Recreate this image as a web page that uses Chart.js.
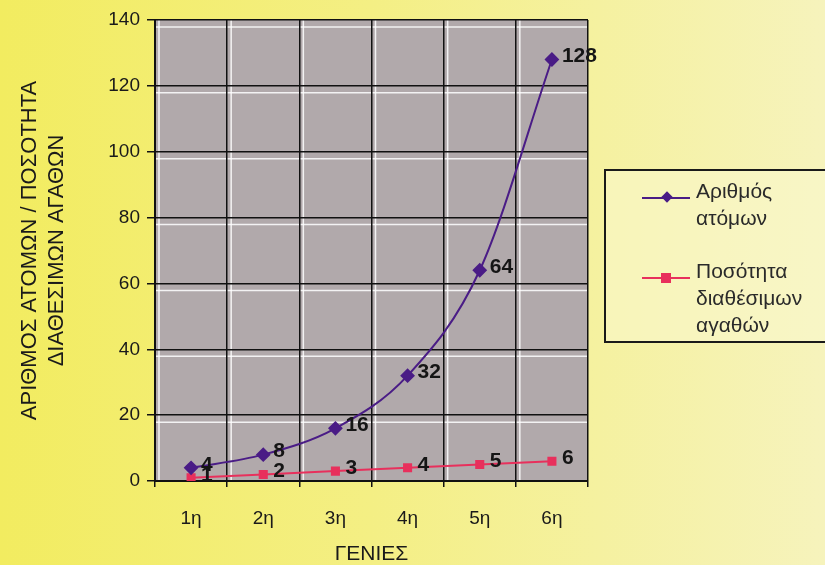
<!DOCTYPE html>
<html lang="el">
<head>
<meta charset="UTF-8" />
<title>Γενιές</title>
<script src="https://cdn.jsdelivr.net/npm/chart.js@4.4.1/dist/chart.umd.min.js"></script>
<style>
  html, body { margin: 0; padding: 0; }
  body {
    width: 825px; height: 565px; overflow: hidden; position: relative;
    background: linear-gradient(90deg, #f2ec60 0%, #f4ef84 45%, #f6f3bc 100%);
    font-family: "Liberation Sans", Arial, sans-serif;
  }
  #board { position: absolute; left: 0; top: 0; width: 825px; height: 565px; }
  #legend {
    position: absolute; left: 604px; top: 169px; width: 240px; height: 174px;
    border: 2px solid #1a1a1a; background: rgba(250, 248, 205, 0.55);
    box-sizing: border-box;
  }
  .item { position: absolute; left: 36px; }
  .item .sample { position: absolute; left: 0; top: 20px; width: 48px; height: 2px; }
  .item .mk { position: absolute; }
  .item .txt { position: absolute; left: 54px; top: 0; font-size: 21px; line-height: 27px; color: #2a2a2a; white-space: nowrap; }
</style>
</head>
<body>
<div id="board"><canvas id="chart1" width="825" height="565"></canvas></div>
<div id="legend"></div>
<script>
  // δεδομένα
  const generations = ['1η', '2η', '3η', '4η', '5η', '6η'];
  const people = [4, 8, 16, 32, 64, 128];
  const goods = [1, 2, 3, 4, 5, 6];
  const seriesNames = ['Αριθμός\nατόμων', 'Ποσότητα\nδιαθέσιμων\nαγαθών'];
  const yTitle = ['ΑΡΙΘΜΟΣ ΑΤΟΜΩΝ / ΠΟΣΟΤΗΤΑ', 'ΔΙΑΘΕΣΙΜΩΝ ΑΓΑΘΩΝ'];
  const xTitle = 'ΓΕΝΙΕΣ';

  const purple = '#4a1c86';
  const red = '#e8305c';
  const fam = '"Liberation Sans", Arial, sans-serif';

  // γκρι φόντο και λευκές "σκιές" των γραμμών πλέγματος
  const plotBg = {
    id: 'plotBg',
    beforeDraw(chart) {
      const { ctx, chartArea: a, scales } = chart;
      ctx.save();
      ctx.fillStyle = '#b1a9ab';
      ctx.fillRect(a.left, a.top, a.right - a.left, a.bottom - a.top);
      ctx.strokeStyle = 'rgba(255,255,255,0.85)';
      ctx.lineWidth = 1.5;
      scales.y.ticks.forEach(t => {
        const y = scales.y.getPixelForValue(t.value) + 7;
        if (y < a.bottom) {
          ctx.beginPath(); ctx.moveTo(a.left, y); ctx.lineTo(a.right, y); ctx.stroke();
        }
      });
      for (let i = 0; i < generations.length; i++) {
        const x = scales.x.getPixelForValue(i) - (scales.x.width / generations.length) / 2 + 4;
        ctx.beginPath(); ctx.moveTo(x, a.top); ctx.lineTo(x, a.bottom); ctx.stroke();
      }
      ctx.restore();
    }
  };

  // ετικέτες τιμών δίπλα στα σημεία
  const valueLabels = {
    id: 'valueLabels',
    afterDatasetsDraw(chart) {
      const { ctx } = chart;
      ctx.save();
      ctx.font = 'bold 21px ' + fam;
      ctx.fillStyle = '#151515';
      ctx.textAlign = 'left';
      ctx.textBaseline = 'middle';
      chart.data.datasets.forEach((ds, di) => {
        chart.getDatasetMeta(di).data.forEach((pt, i) => {
          ctx.fillText(String(ds.data[i]), pt.x + 10, pt.y - 3);
        });
      });
      ctx.restore();
    }
  };

  const ctx = document.getElementById('chart1').getContext('2d');
  new Chart(ctx, {
    type: 'line',
    data: {
      labels: generations,
      datasets: [
        {
          label: seriesNames[0],
          data: people,
          borderColor: purple,
          backgroundColor: purple,
          borderWidth: 2,
          pointStyle: 'rectRot',
          pointRadius: 6,
          cubicInterpolationMode: 'monotone',
        },
        {
          label: seriesNames[1],
          data: goods,
          borderColor: red,
          backgroundColor: red,
          borderWidth: 2,
          pointStyle: 'rect',
          pointRadius: 5,
        },
      ],
    },
    options: {
      responsive: false,
      animation: false,
      layout: { padding: { top: 20, right: 237, left: 0, bottom: 0 } },
      plugins: {
        legend: { display: false },
        tooltip: { enabled: false },
      },
      scales: {
        x: {
          offset: true,
          grid: { offset: true, color: '#111', lineWidth: 1.5, tickLength: 6 },
          border: { color: '#111', width: 2 },
          ticks: { color: '#1a1a1a', font: { size: 19, family: fam }, padding: 20 },
          title: { display: true, text: xTitle, color: '#1a1a1a', font: { size: 21, family: fam, lineHeight: 1 }, padding: { top: 0, bottom: 0 } },
          afterFit(scale) { scale.height = 84; },
        },
        y: {
          min: 0,
          max: 140,
          ticks: { stepSize: 20, color: '#1a1a1a', font: { size: 19, family: fam }, padding: 7 },
          grid: { color: '#111', lineWidth: 1.5, tickLength: 8 },
          border: { color: '#111', width: 2 },
          title: { display: true, text: yTitle, color: '#1a1a1a', font: { size: 22, family: fam, lineHeight: 1.23 }, padding: { top: 16, bottom: 0 } },
          afterFit(scale) { scale.width = 155; },
        },
      },
    },
    plugins: [plotBg, valueLabels],
  });

  // υπόμνημα σε HTML (πολλές γραμμές κειμένου)
  const legend = document.getElementById('legend');
  const colors = [purple, red];
  const tops = [6, 86];
  seriesNames.forEach((name, i) => {
    const it = document.createElement('div');
    it.className = 'item';
    it.style.top = tops[i] + 'px';
    const mk = i === 0
      ? `<div class="mk" style="top:16px;left:21px;width:8px;height:8px;background:${colors[i]};transform:rotate(45deg)"></div>`
      : `<div class="mk" style="top:16px;left:19px;width:10px;height:10px;background:${colors[i]}"></div>`;
    it.innerHTML = `<div class="sample" style="background:${colors[i]}"></div>${mk}<div class="txt">${name.split('\n').join('<br>')}</div>`;
    legend.appendChild(it);
  });
</script>
</body>
</html>
